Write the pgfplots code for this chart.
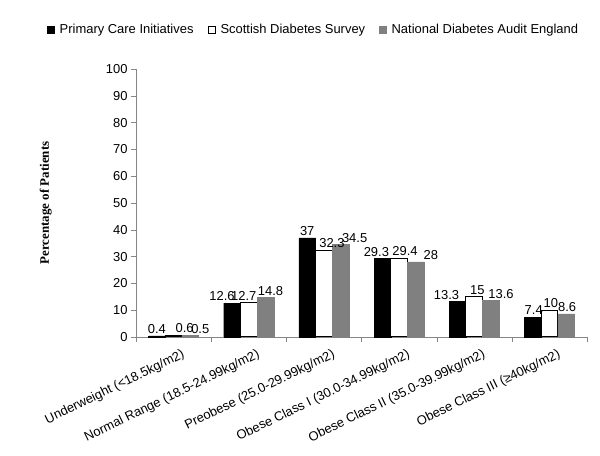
\documentclass[border=0pt]{standalone}
\usepackage{pgfplots}
\usepackage{pgfplotstable}
\pgfplotsset{compat=1.18}
\usepackage{fontspec}
\setmainfont{Liberation Sans}
\newfontfamily\timesfont{Liberation Serif}
\definecolor{axgray}{RGB}{134,134,134}
\definecolor{bargray}{RGB}{128,128,128}
\pgfplotstableread{
x y lab dx
0 0.4 0.4 0
1 12.6 12.6 -10
2 37 37 0
3 29.3 29.3 -6
4 13.3 13.3 -11
5 7.4 7.4 1
}\primary
\pgfplotstableread{
x y lab dx
0 0.6 0.6 11
1 12.7 12.7 -5
2 32.3 32.3 8
3 29.4 29.4 6
4 15 15 3
5 10 10 1.5
}\scottish
\pgfplotstableread{
x y lab dx
0 0.5 0.5 10
1 14.8 14.8 5
2 34.5 34.5 14
3 28 28 15
4 13.6 13.6 10
5 8.6 8.6 1
}\national
\begin{document}
\begin{tikzpicture}[x=1bp,y=1bp]
\useasboundingbox (0,0) rectangle (600,456);
\begin{axis}[
  at={(136bp,119bp)}, anchor=south west,
  scale only axis, width=451bp, height=268bp,
  xmin=-0.5, xmax=5.5, ymin=0, ymax=100,
  ybar=0pt, bar width=16.7bp,
  axis x line*=bottom, axis y line*=left,
  axis line style={axgray},
  xtick={0,1,2,3,4,5},
  xticklabels={Underweight (<18.5kg/m2),Normal Range (18.5-24.99kg/m2),Preobese (25.0-29.99kg/m2),Obese Class I (30.0-34.99kg/m2),Obese Class II (35.0-39.99kg/m2),Obese Class III (≥40kg/m2)},
  major x tick style={draw=none},
  minor xtick={-0.5,0.5,1.5,2.5,3.5,4.5,5.5},
  minor x tick style={axgray},
  minor tick length=5bp,
  xticklabel style={rotate=26, anchor=north east, font=\fontsize{13}{14}\selectfont, inner sep=0bp, yshift=-9bp, xshift=4bp},
  ytick={0,10,...,100},
  y tick style={axgray},
  major tick length=5bp,
  tick align=outside,
  yticklabel style={font=\fontsize{13}{14}\selectfont},
  /pgf/number format/assume math mode=true,
  ylabel={\timesfont\bfseries Percentage of Patients},
  ylabel style={at={(axis description cs:-0.2,0.5)}, anchor=center, font=\fontsize{13}{14}\selectfont},
  nodes near coords,
  visualization depends on={\thisrow{dx} \as \dx},
  nodes near coords style={font=\fontsize{13}{14}\selectfont, inner sep=2bp, text=black, xshift=\dx bp},
  point meta=explicit symbolic,
  legend style={at={(0.394,1.146)}, anchor=center, legend columns=3, draw=none, font=\fontsize{13}{14}\selectfont, inner sep=0bp, /tikz/every odd column/.append style={column sep=3bp}, /tikz/every even column/.append style={column sep=12bp}},
  legend image code/.code={\draw[#1] (0bp,-3.5bp) rectangle (7bp,3.5bp);},
  clip=false,
]
\addplot[fill=black, draw=black] table[x=x, y=y, meta=lab] {\primary};
\addplot[fill=white, draw=black, line width=1bp] table[x=x, y=y, meta=lab] {\scottish};
\addplot[fill=bargray, draw=bargray] table[x=x, y=y, meta=lab] {\national};
\legend{Primary Care Initiatives,Scottish Diabetes Survey,National Diabetes Audit England}
\end{axis}
\end{tikzpicture}
\end{document}
